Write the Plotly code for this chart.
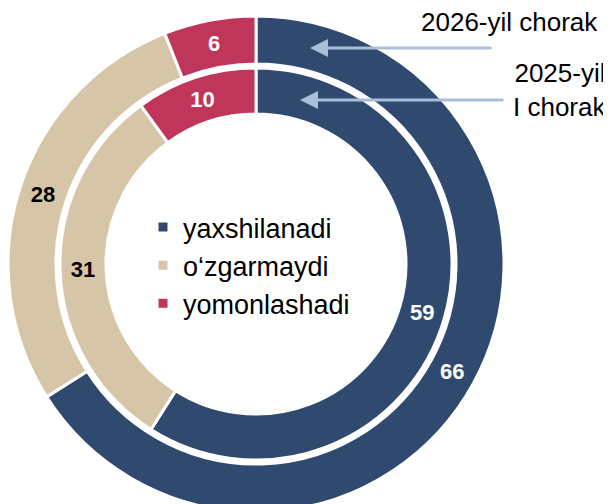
import plotly.graph_objects as go

categories = ["yaxshilanadi", "o‘zgarmaydi", "yomonlashadi"]
outer_2026 = [66, 28, 6]
inner_2025 = [59, 31, 10]
colors = ["#2F4A6E", "#D7C5A8", "#C0355A"]
text_colors = ["white", "black", "white"]

# page body has an 8px margin; lay out in reference pixels and shift
OFF = 8
W, H = 611 - OFF, 540
cx, cy = 256 - OFF, 264 - OFF
R_out, r_out = 248, 200
R_in, r_in = 196, 150

def px(x):
    return (x - OFF) / W

def py(y):
    return (H - (y - OFF)) / H

def dom(R):
    return dict(x=[(cx - R) / W, (cx + R) / W],
                y=[(H - cy - R) / H, (H - cy + R) / H])

common = dict(
    labels=categories, sort=False, direction="clockwise", rotation=0,
    marker=dict(colors=colors, line=dict(color="white", width=3)),
    textinfo="value", textposition="inside", insidetextorientation="horizontal",
    insidetextfont=dict(family="Liberation Sans, Arial", size=22, weight="bold",
                        color=text_colors),
    hoverinfo="label+value",
)

fig = go.Figure()
fig.add_trace(go.Pie(values=outer_2026, domain=dom(R_out), hole=r_out / R_out,
                     name="2026-yil chorak", showlegend=True, **common))
fig.add_trace(go.Pie(values=inner_2025, domain=dom(R_in), hole=r_in / R_in,
                     name="2025-yil I chorak", showlegend=False, **common))

arrow_color = "#A9BEDB"
fig.add_annotation(x=px(310), y=py(48), xref="paper", yref="paper",
                   ax=183, ay=0, text="", showarrow=True, arrowhead=2,
                   arrowsize=1.2, arrowwidth=3, arrowcolor=arrow_color)
fig.add_annotation(x=px(300), y=py(100), xref="paper", yref="paper",
                   ax=205, ay=0, text="", showarrow=True, arrowhead=2,
                   arrowsize=1.2, arrowwidth=3, arrowcolor=arrow_color)
fig.add_annotation(x=px(600), y=py(22), xref="paper", yref="paper",
                   text="2026-yil chorak", showarrow=False, xanchor="right",
                   yanchor="middle", font=dict(size=26, color="black"))
fig.add_annotation(x=px(608), y=py(90), xref="paper", yref="paper",
                   text="2025-yil<br>I chorak", showarrow=False, xanchor="right",
                   yanchor="middle", align="right", font=dict(size=26, color="black"))

fig.update_layout(
    width=W, height=H, margin=dict(l=0, r=0, t=0, b=0),
    paper_bgcolor="white", plot_bgcolor="white",
    font=dict(family="Liberation Sans, Arial", color="black"),
    legend=dict(x=px(143), y=py(203), xanchor="left", yanchor="top",
                font=dict(size=27), bgcolor="rgba(0,0,0,0)", itemclick=False,
                tracegroupgap=0),
)

fig.write_html("out.html")
